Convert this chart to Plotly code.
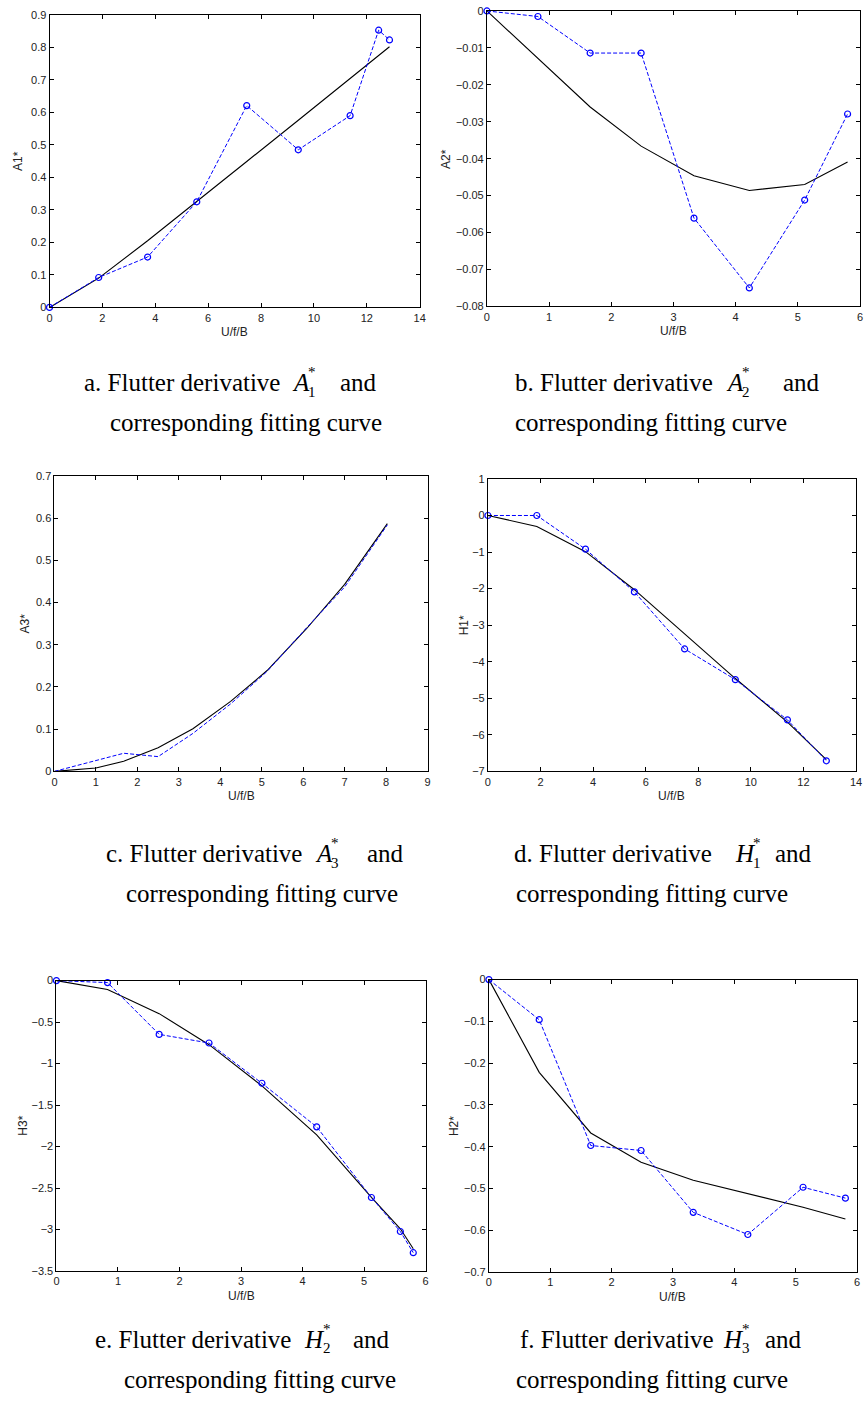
import plotly.graph_objects as go

W, H = 868, 1405

# ---------------- data ----------------
ux_a = [0, 1.86, 3.71, 5.57, 7.46, 9.41, 11.37, 12.45, 12.86]
a1_exp = [0, 0.092, 0.155, 0.325, 0.621, 0.485, 0.590, 0.853, 0.823]
a1_fit = [0, 0.09, 0.205, 0.325, 0.449, 0.576, 0.704, 0.775, 0.802]

ux_b = [0, 0.82, 1.66, 2.48, 3.33, 4.22, 5.11, 5.80]
a2_exp = [0, -0.0015, -0.0114, -0.0114, -0.0561, -0.075, -0.0512, -0.0279]
a2_fit = [0, -0.0128, -0.026, -0.0366, -0.0446, -0.0486, -0.047, -0.0409]

ux_c = [0, 1.0, 1.67, 2.5, 3.34, 4.25, 5.13, 6.08, 7.0, 8.03]
a3_exp = [0, 0.026, 0.043, 0.035, 0.090, 0.160, 0.237, 0.340, 0.437, 0.584]
a3_fit = [0, 0.008, 0.024, 0.056, 0.101, 0.166, 0.239, 0.338, 0.443, 0.587]

ux_d = [0, 1.86, 3.71, 5.57, 7.48, 9.41, 11.39, 12.87]
h1_exp = [0, 0, -0.92, -2.09, -3.65, -4.49, -5.59, -6.71]
h1_fit = [0, -0.30, -0.99, -2.03, -3.24, -4.46, -5.65, -6.68]

ux_e = [0, 0.83, 1.67, 2.48, 3.34, 4.23, 5.12, 5.59, 5.80]
h3_exp = [0, -0.024, -0.648, -0.752, -1.237, -1.762, -2.613, -3.023, -3.278]
h3_fit = [0, -0.107, -0.398, -0.772, -1.269, -1.858, -2.613, -2.99, -3.23]

ux_f = [0, 0.82, 1.66, 2.48, 3.33, 4.22, 5.12, 5.81]
h2_exp = [0, -0.096, -0.397, -0.409, -0.557, -0.610, -0.497, -0.523]
h2_fit = [0, -0.222, -0.367, -0.437, -0.480, -0.513, -0.545, -0.573]

x_label = "U/f/B"

# ---------------- layout helpers ----------------
def px(x):
    return x / W

def py(y):
    return 1 - y / H

panels = [
    dict(x=ux_a, e=a1_exp, f=a1_fit, m=True, yl="A1*", xr=[0, 14], xd=2, yr=[0, 0.9], yd=0.1,
         box=[47, 421, 9, 304], ytx=15),
    dict(x=ux_b, e=a2_exp, f=a2_fit, m=True, yl="A2*", xr=[0, 6], xd=1, yr=[-0.08, 0], yd=0.01,
         box=[489, 866, 5, 303], ytx=447),
    dict(x=ux_c, e=a3_exp, f=a3_fit, m=False, yl="A3*", xr=[0, 9], xd=1, yr=[0, 0.7], yd=0.1,
         box=[52, 429, 474, 772], ytx=22),
    dict(x=ux_d, e=h1_exp, f=h1_fit, m=True, yl="H1*", xr=[0, 14], xd=2, yr=[-7, 1], yd=1,
         box=[490, 862, 477, 772], ytx=466),
    dict(x=ux_e, e=h3_exp, f=h3_fit, m=True, yl="H3*", xr=[0, 6], xd=1, yr=[-3.5, 0], yd=0.5,
         box=[54, 427, 983, 1276], ytx=20),
    dict(x=ux_f, e=h2_exp, f=h2_fit, m=True, yl="H2*", xr=[0, 6], xd=1, yr=[-0.7, 0], yd=0.1,
         box=[491, 863, 982, 1277], ytx=456),
]

SANS = "Liberation Sans"
SERIF = "Liberation Serif"

fig = go.Figure()
annotations = []
tickfont = dict(family=SANS, size=11, color="#222222")
titlefont = dict(family=SANS, size=12, color="#222222")

for i, p in enumerate(panels, start=1):
    xa = "x" if i == 1 else f"x{i}"
    ya = "y" if i == 1 else f"y{i}"
    l, r, t, b = p["box"]
    fig.add_trace(go.Scatter(
        x=p["x"], y=p["f"], mode="lines",
        line=dict(color="black", width=1.1),
        xaxis=xa, yaxis=ya, showlegend=False, cliponaxis=False))
    fig.add_trace(go.Scatter(
        x=p["x"], y=p["e"], mode="lines+markers" if p["m"] else "lines",
        line=dict(color="#0000ff", width=1, dash="4px,2px"),
        marker=dict(symbol="circle-open", size=6, color="#0000ff", line=dict(width=1.2)),
        xaxis=xa, yaxis=ya, showlegend=False, cliponaxis=False))
    axcommon = dict(showline=True, linecolor="black", linewidth=1, mirror="ticks",
                    ticks="inside", ticklen=4, tickcolor="black", tickwidth=1,
                    showgrid=False, zeroline=False, tickfont=tickfont)
    fig.layout[("xaxis" if i == 1 else f"xaxis{i}")] = dict(
        domain=[px(l), px(r)], anchor=ya, range=p["xr"], dtick=p["xd"], tick0=0, **axcommon)
    fig.layout[("yaxis" if i == 1 else f"yaxis{i}")] = dict(
        domain=[py(b), py(t)], anchor=xa, range=p["yr"], dtick=p["yd"], tick0=0, **axcommon)
    annotations.append(dict(text=x_label, x=px((l + r) / 2), y=py(b + 25), xref="paper", yref="paper",
                            xanchor="center", yanchor="middle", showarrow=False, font=titlefont))
    annotations.append(dict(text=p["yl"], x=px(p["ytx"]), y=py((t + b) / 2), xref="paper", yref="paper",
                            xanchor="center", yanchor="middle", showarrow=False, font=titlefont,
                            textangle=-90))

# ---------------- captions ----------------
capfont = dict(family=SERIF, size=25, color="black")
smallfont = dict(family=SERIF, size=15, color="black")

captions = [
    # prefix, symbol, sub, y1, start, sym_left, ss_left, and_right, line2_center
    ("a. Flutter derivative", "A", "1", 380, 80, 290, 306, 380, 246),
    ("b. Flutter derivative", "A", "2", 380, 515, 729, 745, 828, 655),
    ("c. Flutter derivative", "A", "3", 855, 102, 313, 329, 407, 262),
    ("d. Flutter derivative", "H", "1", 855, 514, 738, 756, 820, 656),
    ("e. Flutter derivative", "H", "2", 1345, 91, 302, 321, 393, 260),
    ("f. Flutter derivative", "H", "3", 1345, 520, 726, 745, 809, 656),
]
line2 = "corresponding fitting curve"
for pre, sym, sub, y1, st, sl, ssl, ar, c2 in captions:
    annotations.append(dict(text=pre, x=px(st), y=py(y1), xanchor="left", yanchor="middle",
                            xref="paper", yref="paper", showarrow=False, font=capfont))
    annotations.append(dict(text=f"<i>{sym}</i>", x=px(sl), y=py(y1), xanchor="left", yanchor="middle",
                            xref="paper", yref="paper", showarrow=False, font=capfont))
    annotations.append(dict(text="*", x=px(ssl), y=py(y1 - 11), xanchor="left", yanchor="middle",
                            xref="paper", yref="paper", showarrow=False, font=smallfont))
    annotations.append(dict(text=sub, x=px(ssl), y=py(y1 + 9), xanchor="left", yanchor="middle",
                            xref="paper", yref="paper", showarrow=False, font=smallfont))
    annotations.append(dict(text="and", x=px(ar), y=py(y1), xanchor="right", yanchor="middle",
                            xref="paper", yref="paper", showarrow=False, font=capfont))
    annotations.append(dict(text=line2, x=px(c2), y=py(y1 + 40), xanchor="center", yanchor="middle",
                            xref="paper", yref="paper", showarrow=False, font=capfont))

fig.update_layout(width=W, height=H, margin=dict(l=0, r=0, t=0, b=0),
                  paper_bgcolor="white", plot_bgcolor="white",
                  annotations=annotations, showlegend=False)

fig.write_html("out.html")
